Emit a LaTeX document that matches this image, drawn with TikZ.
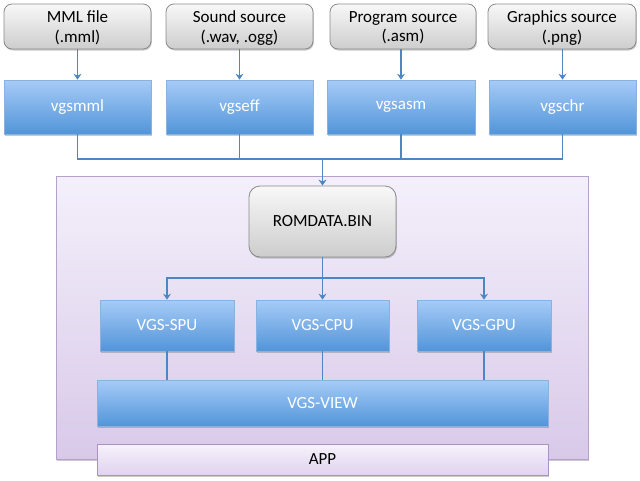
\documentclass[tikz,border=0pt]{standalone}
\usepackage{fontspec}
\setmainfont{Carlito}
\usetikzlibrary{arrows.meta,shadows}
\definecolor{grayTop}{HTML}{F8F8F8}
\definecolor{grayBot}{HTML}{CDCDCD}
\definecolor{grayBorder}{HTML}{8A8A8A}
\definecolor{blueTop}{HTML}{A6CBF7}
\definecolor{blueBot}{HTML}{5295D9}
\definecolor{blueBorder}{HTML}{8AB2E0}
\definecolor{lineC}{HTML}{4E86C4}
\definecolor{purpleTop}{HTML}{F4F0FB}
\definecolor{purpleBot}{HTML}{D8C9E9}
\definecolor{purpleBorder}{HTML}{B5A2CB}
\definecolor{appTop}{HTML}{F6F2FB}
\definecolor{appBot}{HTML}{E0D3EF}
\definecolor{appBorder}{HTML}{A893C3}
\tikzset{
  shd/.style={drop shadow={shadow xshift=0.8pt,shadow yshift=-1.5pt,opacity=0.35,fill=black!60}},
  srcbox/.style={draw=grayBorder,line width=0.8pt,rounded corners=8pt,top color=grayTop,bottom color=grayBot,
    inner sep=0pt,align=center,font=\fontsize{17}{19.5}\selectfont,text=black,minimum height=45pt,text depth=0pt,shd},
  toolbox/.style={draw=blueBorder,line width=0.6pt,top color=blueTop,bottom color=blueBot,
    inner sep=0pt,align=center,font=\fontsize{17}{19.5}\selectfont,text=white,shd},
  rombox/.style={draw=grayBorder,line width=0.8pt,rounded corners=11pt,top color=grayTop,bottom color=grayBot,
    inner sep=0pt,align=center,font=\fontsize{17}{19.5}\selectfont,text=black,shd},
  container/.style={draw=purpleBorder,line width=0.8pt,top color=purpleTop,bottom color=purpleBot,inner sep=0pt,shd},
  appbox/.style={draw=appBorder,line width=0.8pt,top color=appTop,bottom color=appBot,
    inner sep=0pt,font=\fontsize{17}{19.5}\selectfont,text=black,shd},
  conn/.style={draw=lineC,line width=1.6pt},
  thinconn/.style={draw=lineC,line width=1.1pt},
  arr/.style={-{Stealth[length=6pt,width=8pt,inset=2pt]}},
}
\begin{document}
\begin{tikzpicture}[x=1pt,y=-1pt]
\useasboundingbox (0,0) rectangle (640,480);
% source boxes
\node[srcbox,minimum width=147pt] (g1) at (77.5,26.5) {MML file\\(.mml)};
\node[srcbox,minimum width=147pt] (g2) at (239.5,26.5) {Sound source\\(.wav, .ogg)};
\node[srcbox,minimum width=146pt] (g3) at (403,26.5) {Program source\\(.asm)};
\node[srcbox,minimum width=148pt] (g4) at (562,26.5) {Graphics source\\(.png)};
% tool boxes
\node[toolbox,minimum width=147pt,minimum height=54pt] (b1) at (77.5,107) {vgsmml};
\node[toolbox,minimum width=147pt,minimum height=54pt] (b2) at (239.5,107) {vgseff};
\node[toolbox,minimum width=148pt,minimum height=54pt] (b3) at (401,107) {vgsasm};
\node[toolbox,minimum width=147pt,minimum height=54pt] (b4) at (562.5,107) {vgschr};
% container
\node[container,minimum width=532pt,minimum height=283pt] (box) at (322,317.5) {};
\node[rombox,minimum width=147pt,minimum height=71pt] (rom) at (322.5,221.5) {ROMDATA.BIN};
\node[toolbox,minimum width=134pt,minimum height=51pt] (spu) at (167,325.5) {VGS-SPU};
\node[toolbox,minimum width=133pt,minimum height=51pt] (cpu) at (322.5,325.5) {VGS-CPU};
\node[toolbox,minimum width=134pt,minimum height=51pt] (gpu) at (484,325.5) {VGS-GPU};
\node[toolbox,minimum width=451pt,minimum height=46pt] (view) at (322.5,403) {VGS-VIEW};
\node[appbox,minimum width=451pt,minimum height=31pt] (app) at (322.5,459.5) {APP};
% connectors
\coordinate (bus) at (322.5,159);
\coordinate (split) at (322.5,278);
\foreach \i in {1,2,3,4}{
  \draw[conn,arr] (g\i.south -| b\i.north) -- (b\i.north);
}
\draw[conn] (b1.south) |- (bus);
\draw[conn] (b2.south) |- (bus);
\draw[conn] (b3.south) |- (bus);
\draw[conn] (b4.south) |- (bus);
\draw[conn,arr] (bus) -- (rom.north);
\draw[conn] (rom.south) -- (split);
\draw[conn,arr] (split) -| (spu.north);
\draw[conn,arr] (split) -| (gpu.north);
\draw[conn,arr] (split) -- (cpu.north);
\draw[thinconn] (spu.south) -- (spu.south |- view.north);
\draw[thinconn] (cpu.south) -- (cpu.south |- view.north);
\draw[thinconn] (gpu.south) -- (gpu.south |- view.north);
\end{tikzpicture}
\end{document}
